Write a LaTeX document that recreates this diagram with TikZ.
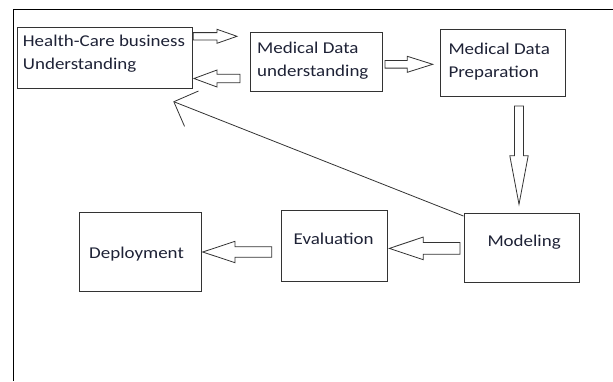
\documentclass[tikz,border=0pt]{standalone}
\usepackage{fontspec}
\setmainfont{Carlito}[FakeStretch=1.15]
\usetikzlibrary{calc,arrows.meta}
\definecolor{boxline}{HTML}{333333}
\definecolor{txtcol}{HTML}{1E2236}
\tikzset{
  box/.style={draw=boxline, line width=0.9pt, rectangle, inner sep=0pt},
  txt/.style={text=txtcol, inner sep=0pt, anchor=base west, font=\fontsize{16.5}{23.5}\selectfont},
  blockarrow/.style={draw=boxline, line width=0.8pt, fill=white, line join=miter},
  frameline/.style={draw=black, line width=1.3pt}
}
% \barrow{tail}{tip}{shaft half width}{head half width}{head length}
\newcommand{\barrow}[5]{%
  \coordinate (hb) at ($(#2)!#5!(#1)$);
  \draw[blockarrow] ($(#1)!#3!90:(#2)$) -- ($(hb)!#3!-90:(#1)$) -- ($(hb)!#4!-90:(#1)$)
    -- (#2) -- ($(hb)!#4!90:(#1)$) -- ($(hb)!#3!90:(#1)$) -- ($(#1)!#3!-90:(#2)$) -- cycle;
}
\begin{document}
\begin{tikzpicture}[x=1pt,y=-1pt]
\useasboundingbox (0,0) rectangle (613,381);
% frame
\coordinate (ftl) at (13.3,9.3);
\coordinate (ftr) at (613,9.3);
\coordinate (fbl) at (13.3,381);
\draw[frameline] (ftr) -- (ftl) -- (fbl);

% boxes
\node[box, minimum width=175pt, minimum height=61pt] (hc) at (104.5,57.5) {};
\node[box, minimum width=132pt, minimum height=59pt] (mdu) at (316,61.5) {};
\node[box, minimum width=125pt, minimum height=67pt] (mdp) at (502.5,62.5) {};
\node[box, minimum width=115pt, minimum height=69pt] (mod) at (521.5,247.5) {};
\node[box, minimum width=106pt, minimum height=71pt] (eva) at (334,245.5) {};
\node[box, minimum width=122pt, minimum height=79.5pt] (dep) at (140.5,252) {};

% texts
\node[txt] (t1a) at (22.7,46) {Health-Care business};
\node[txt] (t1b) at (22.7,69.5) {Understanding};
\node[txt] (t2a) at (257,53) {Medical Data};
\node[txt] (t2b) at (257,76.5) {understanding};
\node[txt] (t3a) at (448.3,54) {Medical Data};
\node[txt] (t3b) at (448.3,77.5) {Preparation};
\node[txt] (t4) at (487.3,246) {Modeling};
\node[txt] (t5) at (293.5,244) {Evaluation};
\node[txt] (t6) at (89,258) {Deployment};

% block arrows
\coordinate (a1s) at ($(hc.east)+(0.8,0)$);
\path (a1s |- 0,36.3) coordinate (a1t);
\coordinate (a1p) at (237,36.3);
\barrow{a1t}{a1p}{3.7pt}{7pt}{20pt}

\coordinate (a2t) at (240,78.5);
\coordinate (a2p) at (194,78.5);
\barrow{a2t}{a2p}{4.2pt}{8.5pt}{23pt}

\coordinate (a3t) at (385,64.3);
\coordinate (a3p) at (432.7,64.3);
\barrow{a3t}{a3p}{3.8pt}{8pt}{25.4pt}

\coordinate (a4t) at (519,106);
\coordinate (a4p) at (519,204.3);
\barrow{a4t}{a4p}{4.5pt}{9.2pt}{48.6pt}

\coordinate (a5t) at (460,248.4);
\coordinate (a5p) at (389.3,248.4);
\barrow{a5t}{a5p}{5.85pt}{11.35pt}{34pt}

\coordinate (a6t) at (271.7,252);
\coordinate (a6p) at (202.7,252);
\barrow{a6t}{a6p}{5.3pt}{10.7pt}{32.3pt}

% feedback line
\coordinate (fb) at ($(mod.north west)+(0,3.5)$);
\coordinate (fbtip) at (173.3,101.5);
\draw[draw=boxline, line width=0.8pt, -{Straight Barb[length=19pt,width=38pt,line width=0.8pt]}] (fb) -- (fbtip);
\end{tikzpicture}
\end{document}
